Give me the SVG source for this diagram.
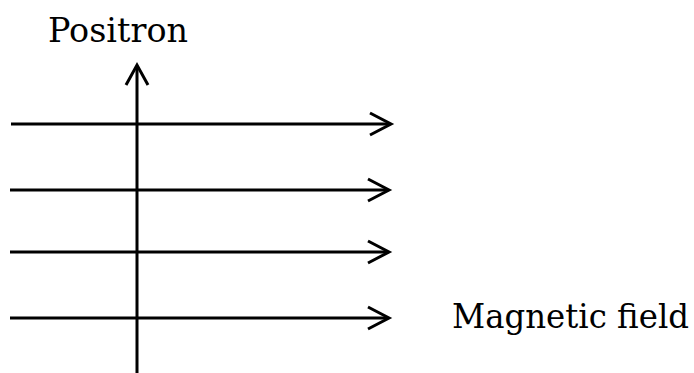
<svg xmlns="http://www.w3.org/2000/svg" width="694" height="373" viewBox="0 0 694 373">
<style>
.ln{stroke:#000;stroke-width:3;fill:none;stroke-linecap:butt}
.hd{stroke:#000;stroke-width:3;fill:none;stroke-linejoin:miter}
.lbl{font-family:"DejaVu Serif","Liberation Serif",serif;font-size:33px;fill:#000}
</style>
<rect width="694" height="373" fill="#fff"/>
<g id="connectors">
<g id="field1"><line class="ln" x1="11" y1="124" x2="390" y2="124"/><polyline class="hd" points="370,113 391,124 370,135"/></g>
<g id="field2"><line class="ln" x1="10" y1="190" x2="388" y2="190"/><polyline class="hd" points="368,179 389,190 368,201"/></g>
<g id="field3"><line class="ln" x1="10" y1="252" x2="388" y2="252"/><polyline class="hd" points="368,241 389,252 368,263"/></g>
<g id="field4"><line class="ln" x1="10" y1="318" x2="388" y2="318"/><polyline class="hd" points="368,307 389,318 368,329"/></g>
<g id="positron-axis"><line class="ln" x1="137" y1="373" x2="137" y2="66"/><polyline class="hd" points="126,85 137,65 148,85"/></g>
</g>
<g id="positron-label"><text class="lbl" x="48" y="42" textLength="140" lengthAdjust="spacingAndGlyphs">Positron</text></g>
<g id="field-label"><text class="lbl" x="452" y="328" textLength="237" lengthAdjust="spacingAndGlyphs">Magnetic field</text></g>
</svg>
